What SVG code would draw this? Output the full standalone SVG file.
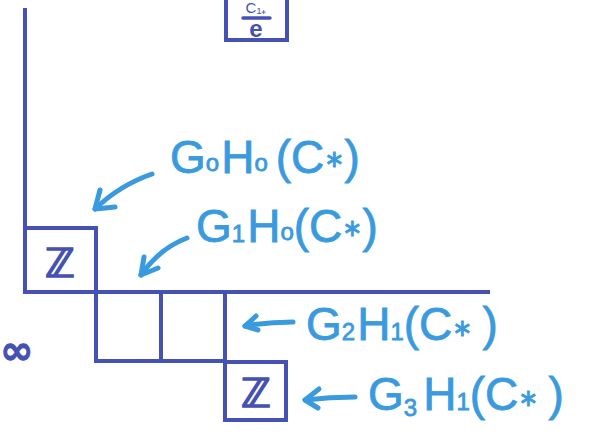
<svg xmlns="http://www.w3.org/2000/svg" width="605" height="433" viewBox="0 0 605 433">
<style>
.grid{stroke:#4551b3;stroke-width:4;fill:none;stroke-linecap:square}
.arr{stroke:#3a9ade;stroke-width:5;fill:none;stroke-linecap:round;stroke-linejoin:round}
.lab{font-family:"Liberation Sans","DejaVu Sans",sans-serif;fill:#3a9ade;font-size:46px;stroke:#3a9ade;stroke-width:0.8}
.sub{font-size:24px}
.zz{font-family:"DejaVu Sans",sans-serif;fill:#4551b3;font-size:40px;text-anchor:middle;stroke:#4551b3;stroke-width:1.6}
</style>
<rect width="605" height="433" fill="#fff"/>
<g id="axes">
<path class="grid" d="M25 10 V292 H488"/>
</g>
<g id="box-top">
<rect class="grid" x="226" y="-4" width="61" height="44"/>
<text x="256" y="13" font-family="Liberation Sans,sans-serif" font-size="15" fill="#4551b3" text-anchor="middle">C₁₊</text>
<path d="M243 18 H270" stroke="#4551b3" stroke-width="3.5" stroke-linecap="round"/>
<text x="256" y="37" font-family="Liberation Sans,sans-serif" font-size="24" font-weight="bold" fill="#4551b3" text-anchor="middle">e</text>
</g>
<g id="box-z1">
<rect class="grid" x="25" y="228" width="71" height="64"/>
<text class="zz" x="60" y="277">ℤ</text>
</g>
<g id="box-a">
<rect class="grid" x="96" y="292" width="65" height="69"/>
</g>
<g id="box-b">
<rect class="grid" x="161" y="292" width="64" height="69"/>
</g>
<g id="box-z2">
<path class="grid" d="M225 292 V361"/>
<rect class="grid" x="225" y="362" width="61" height="58"/>
<text class="zz" x="256" y="407">ℤ</text>
</g>
<g id="infty">
<text x="0" y="364" font-family="DejaVu Sans,sans-serif" font-size="40" font-weight="bold" fill="#4551b3" stroke="#4551b3" stroke-width="1">∞</text>
</g>
<g id="connectors">
<path class="arr" d="M152 174 Q120 185 95 209"/>
<path class="arr" d="M100 190 L95 209 L115 207"/>
<path class="arr" d="M187 238 Q160 248 141 275"/>
<path class="arr" d="M144 257 L141 275 L158 268"/>
<path class="arr" d="M293 322 Q268 322 245 326"/>
<path class="arr" d="M256 316 L245 326 L258 330"/>
<path class="arr" d="M355 397 Q330 397 305 400"/>
<path class="arr" d="M319 389 L305 400 L318 408"/>
</g>
<g id="label-g0">
<text class="lab" x="170" y="173">G<tspan class="sub" dy="-2">o</tspan><tspan dy="2" dx="2">H</tspan><tspan class="sub" dy="-2">o</tspan><tspan dy="2" dx="8">(C</tspan><tspan class="sub" dy="-6">∗</tspan><tspan dy="6">)</tspan></text>
</g>
<g id="label-g1">
<text class="lab" x="196" y="242">G<tspan class="sub">1</tspan><tspan dx="2">H</tspan><tspan class="sub" dy="-2">o</tspan><tspan dy="2">(C</tspan><tspan class="sub" dy="-6">∗</tspan><tspan dy="6">)</tspan></text>
</g>
<g id="label-g2">
<text class="lab" x="306" y="340">G<tspan class="sub">2</tspan><tspan dx="2">H</tspan><tspan class="sub">1</tspan>(C<tspan class="sub" dy="-4">∗</tspan><tspan dy="4" dx="10">)</tspan></text>
</g>
<g id="label-g3">
<text class="lab" x="368" y="410">G<tspan class="sub" dy="6">3</tspan><tspan dy="-6" dx="6">H</tspan><tspan class="sub">1</tspan>(C<tspan class="sub" dy="-4">∗</tspan><tspan dy="4" dx="10">)</tspan></text>
</g>
</svg>
